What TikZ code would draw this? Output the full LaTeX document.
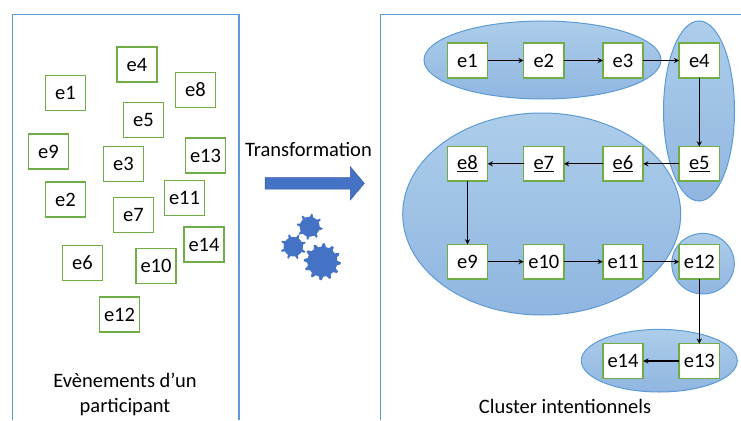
\documentclass[tikz,border=0pt]{standalone}
\usepackage{fontspec}
\setmainfont{Carlito}
\usetikzlibrary{positioning}
\usetikzlibrary{shapes.geometric}
\usetikzlibrary{calc}

\definecolor{framecol}{HTML}{5B9BD5}
\definecolor{boxcol}{HTML}{70AD47}
\definecolor{shapecol}{HTML}{4472C4}

\newcommand{\gearicon}[6]{
  \fill[shapecol] (#1,#2) circle (#3);
  \foreach \i in {1,...,#5} {
      \pgfmathsetmacro{\a}{#6+360*\i/#5}
      \fill[shapecol] ($(#1,#2)+(\a-10:#3-0.5)$) -- ($(#1,#2)+(\a-3:#4)$) -- ($(#1,#2)+(\a+3:#4)$) -- ($(#1,#2)+(\a+10:#3-0.5)$) -- cycle;
    }
}

\begin{document}
\begin{tikzpicture}[
    x=1pt, y=-1pt,
    evt/.style={draw=boxcol, line width=1.5pt, fill=white, minimum width=40.4pt, minimum height=34.6pt, inner sep=0pt, outer sep=0pt, font=\fontsize{20.5}{20.5}\selectfont},
    cluster/.style={ellipse, draw=framecol, line width=1pt, top color=framecol!50!white, bottom color=framecol!70!shapecol!65!white, inner sep=0pt, outer sep=0pt},
    frameline/.style={draw=framecol, line width=1.3pt},
    lbl/.style={align=center, inner sep=0pt, font=\fontsize{20.5}{25}\selectfont},
    link/.style={-stealth, line width=1.3pt}
  ]

  \useasboundingbox (0,0) rectangle (741,420);

  \draw[frameline] (12.5,420) -- (12.5,14.5) -- (239,14.5) -- (239,420);
  \draw[frameline] (380.5,420) -- (380.5,14.5) -- (741,14.5);

  \foreach \n/\x/\y in {1/65.5/93, 2/65.5/199.5, 3/123.5/164, 4/137/64.5, 5/143.5/120, 6/82.5/263, 7/133.5/215, 8/195.5/90, 9/48.5/151.5, 10/156/266, 11/184.5/198, 12/119.5/314.5, 13/205.5/155.5, 14/204/244.5} {
      \node[evt] (p\n) at (\x,\y) {e\n};
    }

  \node[lbl] (plabel) at (125,394.5) {Evènements d’un\\participant};
  \node[lbl] (tlabel) at (308.5,149) {Transformation};
  \node[lbl] (clabel) at (565,406.5) {Cluster intentionnels};

  \fill[shapecol, draw=shapecol!80!black, line width=0.5pt] (265,177.7) -- (350.3,177.7) -- (350.3,166.7) -- (364.3,183.4) -- (350.3,200) -- (350.3,189.2) -- (265,189.2) -- cycle;

  \gearicon{309.7}{226.7}{10}{13}{8}{10}
  \gearicon{293.3}{246.7}{9.8}{12.8}{8}{25}
  \gearicon{322.3}{261.7}{15}{18.5}{12}{5}

  \node[cluster, minimum width=237pt, minimum height=78pt] (c1) at (542.5,60) {};
  \node[cluster, minimum width=71pt, minimum height=180pt] (c2) at (699,111) {};
  \node[cluster, minimum width=278pt, minimum height=202pt] (c3) at (541.7,214) {};
  \node[cluster, minimum width=62.6pt, minimum height=60.6pt] (c4) at (703,263.7) {};
  \node[cluster, minimum width=156pt, minimum height=62.6pt] (c5) at (659.3,360.7) {};

  \node[evt] (e1) at (467.5,60.5) {e1};
  \node[evt, right=35.9pt of e1] (e2) {e2};
  \node[evt, right=38.8pt of e2] (e3) {e3};
  \node[evt, right=35.9pt of e3] (e4) {e4};
  \node[evt, below=68.7pt of e4] (e5) {\underline{e5}};
  \node[evt, left=35.9pt of e5] (e6) {\underline{e6}};
  \node[evt, left=38.8pt of e6] (e7) {\underline{e7}};
  \node[evt, left=35.9pt of e7] (e8) {\underline{e8}};
  \node[evt, below=63.3pt of e8] (e9) {e9};
  \node[evt, right=35.9pt of e9] (e10) {e10};
  \node[evt, right=38.8pt of e10] (e11) {e11};
  \node[evt, right=35.9pt of e11] (e12) {e12};
  \node[evt, below=64.7pt of e12] (e13) {e13};
  \node[evt, left=35.9pt of e13] (e14) {e14};

  \foreach \a/\b in {1/2,2/3,3/4,9/10,10/11,11/12} {
      \draw[link] (e\a.east) -- (e\b.west);
    }
  \foreach \a/\b in {5/6,6/7,7/8,13/14} {
      \draw[link] (e\a.west) -- (e\b.east);
    }
  \foreach \a/\b in {4/5,8/9,12/13} {
      \draw[link] (e\a.south) -- (e\b.north);
    }

\end{tikzpicture}
\end{document}
